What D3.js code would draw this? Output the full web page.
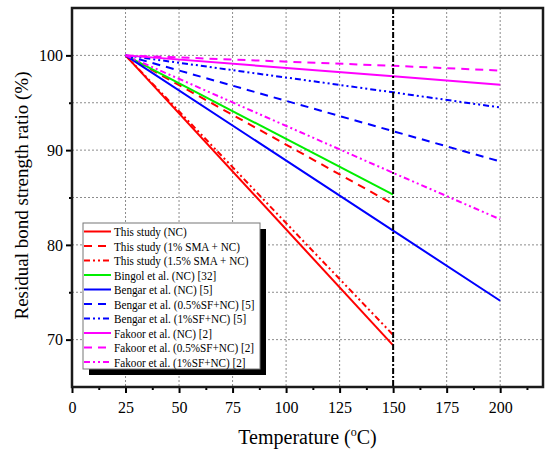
<!DOCTYPE html>
<html>
<head>
<meta charset="utf-8">
<script src="https://cdn.jsdelivr.net/npm/d3@7"></script>
<style>
  body { margin: 0; background: #fff; }
  svg { font-family: "Liberation Serif", "Times New Roman", serif; }
</style>
</head>
<body>
<div id="chart"></div>
<script>
// residual bond strength ratio vs temperature, several studies

// data
const tempsShort = [25, 150];
const tempsLong = [25, 150, 200];

const seriesNames = [
  "This study (NC)",
  "This study (1% SMA + NC)",
  "This study (1.5% SMA + NC)",
  "Bingol et al. (NC) [32]",
  "Bengar et al. (NC) [5]",
  "Bengar et al. (0.5%SF+NC) [5]",
  "Bengar et al. (1%SF+NC) [5]",
  "Fakoor et al. (NC) [2]",
  "Fakoor et al. (0.5%SF+NC) [2]",
  "Fakoor et al. (1%SF+NC) [2]"
];

const thisNC = [100, 69.4];
const this1SMA = [100, 84.3];
const this15SMA = [100, 70.5];
const bingolNC = [100, 85.3];
const bengarNC = [100, 81.5, 74.1];
const bengar05SF = [100, 92.0, 88.8];
const bengar1SF = [100, 96.1, 94.5];
const fakoorNC = [100, 97.8, 96.9];
const fakoor05SF = [100, 98.9, 98.4];
const fakoor1SF = [100, 87.6, 82.7];

const seriesValues = [thisNC, this1SMA, this15SMA, bingolNC, bengarNC,
  bengar05SF, bengar1SF, fakoorNC, fakoor05SF, fakoor1SF];

const xTicks = [0, 25, 50, 75, 100, 125, 150, 175, 200];
const yTicks = [70, 80, 90, 100];
const markTemp = 150; // vertical reference line

// styles
const colors = ["#ff0000", "#ff0000", "#ff0000", "#00ee00", "#0000ff",
  "#0000ff", "#0000ff", "#ff00ff", "#ff00ff", "#ff00ff"];
const dashes = ["none", "8,6", "6,3,2,3,2,3", "none", "none",
  "8,6", "6,3,2,3,2,3", "none", "8,6", "6,3,2,3,2,3"];

const width = 550, height = 457;
const margin = { top: 8, right: 7, bottom: 70, left: 72 };
const innerW = width - margin.left - margin.right;
const innerH = height - margin.top - margin.bottom;

const svg = d3.select("#chart").append("svg")
  .attr("width", width)
  .attr("height", height);

const g = svg.append("g")
  .attr("transform", `translate(${margin.left},${margin.top})`);

const x = d3.scaleLinear().domain([0, 220]).range([0, innerW]);
const y = d3.scaleLinear().domain([65, 105]).range([innerH, 0]);

// grid
const gridX = d3.range(25, 201, 25);
const gridY = d3.range(70, 101, 5);
g.append("g").selectAll("line")
  .data(gridX)
  .join("line")
  .attr("x1", d => x(d)).attr("x2", d => x(d))
  .attr("y1", 0).attr("y2", innerH)
  .attr("stroke", "#8c8c8c")
  .attr("stroke-width", 1)
  .attr("stroke-dasharray", "2,2");
g.append("g").selectAll("line")
  .data(gridY)
  .join("line")
  .attr("x1", 0).attr("x2", innerW)
  .attr("y1", d => y(d)).attr("y2", d => y(d))
  .attr("stroke", "#8c8c8c")
  .attr("stroke-width", 1)
  .attr("stroke-dasharray", "2,2");

// series lines
const line = d3.line()
  .x(d => x(d[0]))
  .y(d => y(d[1]));

g.append("g").selectAll("path")
  .data(seriesValues)
  .join("path")
  .attr("d", vals => {
    const ts = vals.length === 2 ? tempsShort : tempsLong;
    return line(vals.map((v, i) => [ts[i], v]));
  })
  .attr("fill", "none")
  .attr("stroke", (d, i) => colors[i])
  .attr("stroke-width", 2)
  .attr("stroke-dasharray", (d, i) => dashes[i]);

// vertical dash-dot at 150
g.append("line")
  .attr("x1", x(markTemp)).attr("x2", x(markTemp))
  .attr("y1", 0).attr("y2", innerH)
  .attr("stroke", "#000")
  .attr("stroke-width", 2)
  .attr("stroke-dasharray", "6,2,2,2");

// axes
const xAxis = g.append("g")
  .attr("transform", `translate(0,${innerH})`)
  .call(d3.axisBottom(x).tickValues(xTicks).tickSize(6).tickSizeOuter(0));
const xMinor = g.append("g")
  .attr("transform", `translate(0,${innerH})`)
  .call(d3.axisBottom(x).tickValues(d3.range(12.5, 220, 25)).tickSize(3).tickFormat("").tickSizeOuter(0));
const yAxis = g.append("g")
  .call(d3.axisLeft(y).tickValues(yTicks).tickSize(6).tickSizeOuter(0));
const yMinor = g.append("g")
  .call(d3.axisLeft(y).tickValues([75, 85, 95]).tickSize(3).tickFormat("").tickSizeOuter(0));

[xAxis, xMinor, yAxis, yMinor].forEach(a => {
  a.select(".domain").remove();
  a.selectAll("line").attr("stroke", "#000").attr("stroke-width", 2);
});
xAxis.selectAll("text")
  .attr("font-size", 16)
  .attr("font-family", "Liberation Serif")
  .attr("fill", "#000")
  .attr("dy", "1.05em");
yAxis.selectAll("text")
  .attr("font-size", 16)
  .attr("font-family", "Liberation Serif")
  .attr("fill", "#000")
  .attr("x", -9);

// frame
g.append("rect")
  .attr("x", 0).attr("y", 0)
  .attr("width", innerW).attr("height", innerH)
  .attr("fill", "none")
  .attr("stroke", "#1a1a1a")
  .attr("stroke-width", 2.5);

// axis titles
svg.append("text")
  .attr("x", margin.left + innerW / 2)
  .attr("y", 444)
  .attr("text-anchor", "middle")
  .attr("font-size", 20)
  .html('Temperature (<tspan dy="-8" font-size="12">o</tspan><tspan dy="8">C)</tspan>');

svg.append("text")
  .attr("transform", `translate(28,${margin.top + innerH / 2 - 2}) rotate(-90)`)
  .attr("text-anchor", "middle")
  .attr("font-size", 19)
  .text("Residual bond strength ratio (%)");

// legend
const lx = 83, ly = 223, lw = 177, lh = 146, rowH = 14.5;
const legend = svg.append("g");
legend.append("rect")
  .attr("x", lx + 6).attr("y", ly + 6)
  .attr("width", lw).attr("height", lh)
  .attr("fill", "#000");
legend.append("rect")
  .attr("x", lx).attr("y", ly)
  .attr("width", lw).attr("height", lh)
  .attr("fill", "#fff")
  .attr("stroke", "#777")
  .attr("stroke-width", 1);

const rows = legend.selectAll("g.row")
  .data(seriesNames)
  .join("g")
  .attr("class", "row")
  .attr("transform", (d, i) => `translate(${lx},${ly + 8.5 + i * rowH})`);
rows.append("line")
  .attr("x1", 1).attr("x2", 28)
  .attr("stroke", (d, i) => colors[i])
  .attr("stroke-width", 2)
  .attr("stroke-dasharray", (d, i) => dashes[i]);
rows.append("text")
  .attr("transform", "translate(31,0) scale(0.83,1)")
  .attr("dy", "0.35em")
  .attr("font-size", 13.5)
  .attr("fill", "#000")
  .text(d => d);
</script>
</body>
</html>
